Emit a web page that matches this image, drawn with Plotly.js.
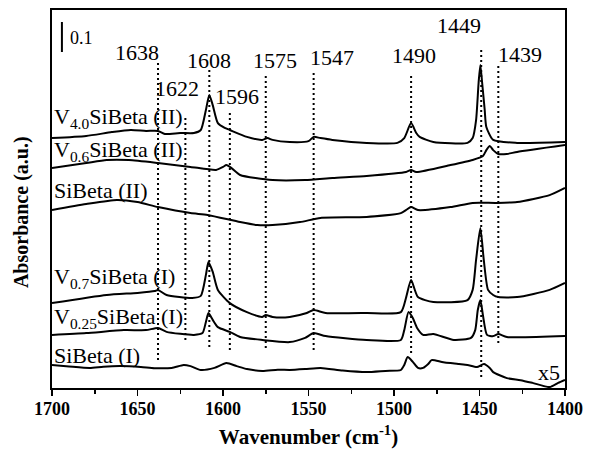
<!DOCTYPE html>
<html>
<head>
<meta charset="utf-8">
<script src="https://cdn.plot.ly/plotly-3.0.1.min.js"></script>
<style>
  html, body { margin: 0; padding: 0; background: #fff; }
  #chart { width: 589px; height: 451px; }
</style>
</head>
<body>
<div id="chart"></div>
<script>
// ---------------- DATA ----------------
// Wavenumber (cm-1) and stacked absorbance (a.u., offsets included)
const wnV40II = [1700,1680,1665,1654,1645,1638,1634,1625,1617,1613,1610,1608,1606,1603,1599,1596,1586,1577,1574,1571,1561,1550,1547,1543,1536,1516,1498,1494,1490,1487,1485,1477,1457,1454,1452,1450.5,1449.5,1448.5,1447,1446,1442,1428,1400];
const abV40II = [0.833,0.840,0.853,0.860,0.857,0.857,0.847,0.850,0.850,0.860,0.927,0.977,0.943,0.883,0.867,0.860,0.837,0.827,0.833,0.827,0.820,0.823,0.837,0.833,0.827,0.817,0.817,0.833,0.883,0.850,0.837,0.820,0.817,0.833,0.893,1.020,1.077,1.020,0.930,0.870,0.827,0.817,0.820];

const wnV06II = [1700,1680,1668,1655,1638,1619,1604,1600,1598,1595,1590,1571,1552,1536,1516,1493,1490,1487,1467,1454,1448,1446,1444,1442,1439,1434,1428,1400];
const abV06II = [0.733,0.750,0.760,0.760,0.750,0.737,0.727,0.737,0.743,0.733,0.710,0.693,0.693,0.700,0.707,0.720,0.727,0.720,0.743,0.760,0.773,0.793,0.807,0.793,0.780,0.780,0.787,0.810];

const wnSiII = [1700,1680,1662,1650,1638,1619,1609,1590,1580,1571,1555,1543,1516,1496,1493,1490,1486,1467,1454,1440,1428,1409,1400];
const abSiII = [0.593,0.613,0.627,0.620,0.603,0.583,0.577,0.553,0.543,0.543,0.553,0.567,0.570,0.583,0.593,0.603,0.593,0.603,0.617,0.617,0.620,0.643,0.667];

const wnV07I = [1700,1668,1650,1640,1638,1633,1618,1613,1610,1608.5,1606,1603,1596,1586,1577,1575,1571,1561,1551,1547,1540,1516,1496,1493,1490,1486,1477,1457,1454,1452,1449.5,1447.5,1445,1442,1439,1428,1409,1400];
const abV07I = [0.283,0.310,0.317,0.323,0.327,0.310,0.300,0.307,0.377,0.420,0.387,0.327,0.283,0.253,0.237,0.243,0.237,0.237,0.250,0.260,0.250,0.250,0.253,0.300,0.360,0.303,0.287,0.293,0.327,0.427,0.533,0.427,0.327,0.310,0.303,0.303,0.327,0.350];

const wnV025I = [1700,1680,1658,1645,1638,1633,1617,1612,1610,1608.5,1606,1603,1596,1590,1577,1561,1552,1547,1540,1516,1496,1494,1491.5,1489,1486.5,1483,1477,1465,1455,1452.5,1451,1449.5,1448,1445.6,1442,1439,1434,1400];
const abV025I = [0.177,0.183,0.193,0.193,0.200,0.187,0.177,0.183,0.220,0.250,0.227,0.203,0.187,0.170,0.160,0.153,0.167,0.183,0.173,0.160,0.160,0.193,0.253,0.233,0.200,0.177,0.180,0.160,0.167,0.193,0.260,0.293,0.243,0.177,0.173,0.180,0.170,0.173];

const wnSiI = [1700,1690,1678,1670,1660,1648,1640,1630,1623,1619,1613,1605,1598,1592,1586,1577,1568,1561,1552,1543,1530,1516,1505,1496,1494,1492,1489,1486,1483,1480,1478,1472,1467,1462,1457,1451.5,1447.4,1444,1442,1434,1426,1419,1409,1404,1400];
const abSiI = [0.077,0.072,0.067,0.071,0.073,0.070,0.066,0.067,0.077,0.073,0.060,0.067,0.083,0.073,0.063,0.057,0.061,0.060,0.063,0.067,0.058,0.053,0.057,0.060,0.077,0.103,0.087,0.067,0.067,0.080,0.093,0.087,0.083,0.080,0.077,0.070,0.080,0.067,0.053,0.033,0.026,0.017,0.003,0.017,0.027];

const seriesLabels = ["V<sub>4.0</sub>SiBeta (II)","V<sub>0.6</sub>SiBeta (II)","SiBeta (II)","V<sub>0.7</sub>SiBeta (I)","V<sub>0.25</sub>SiBeta (I)","SiBeta (I)"];
const peakWavenumbers = [1638,1622,1608,1596,1575,1547,1490,1449,1439];
const peakLabels = ["1638","1622","1608","1596","1575","1547","1490","1449","1439"];
const xTickVals = [1700,1650,1600,1550,1500,1450,1400];
const xTickText = ["1700","1650","1600","1550","1500","1450","1400"];
const scaleBarValue = 0.1;
const scaleLabel = "0.1";
const multiplierLabel = "x5";
const xTitle = "Wavenumber (cm<sup>-1</sup>)";
const yTitle = "Absorbance (a.u.)";

// ---------------- CHART ----------------
const FONT = "'Liberation Serif', 'Times New Roman', Times, serif";
const seriesX = [wnV40II, wnV06II, wnSiII, wnV07I, wnV025I, wnSiI];
const seriesY = [abV40II, abV06II, abSiII, abV07I, abV025I, abSiI];

const traces = seriesX.map((xs, i) => ({
  x: xs, y: seriesY[i], type: 'scatter', mode: 'lines', name: seriesLabels[i],
  line: { color: '#000', width: 2, shape: 'spline', smoothing: 0.6 },
  hoverinfo: 'skip'
}));

// layout placement (not data)
const labelY = [0.90, 0.79, 0.66, 0.367, 0.233, 0.11];
const peakLineSpan = {
  "1638": [0.093, 1.083], "1622": [0.16, 0.91], "1608": [0.137, 1.06],
  "1596": [0.127, 0.92], "1575": [0.133, 1.05], "1547": [0.127, 1.05],
  "1490": [0.117, 1.043], "1449": [0.037, 1.137], "1439": [0.15, 1.077]
};
const peakLabelPos = {
  "1638": [1650.3, 1.117], "1622": [1626.9, 1.0], "1608": [1608.2, 1.093],
  "1596": [1591.8, 0.973], "1575": [1569.6, 1.093], "1547": [1536.3, 1.103],
  "1490": [1488.3, 1.107], "1449": [1462, 1.207], "1439": [1426.3, 1.113]
};

const shapes = peakWavenumbers.map((w, i) => ({
  type: 'line', xref: 'x', yref: 'y', x0: w, x1: w,
  y0: peakLineSpan[peakLabels[i]][0], y1: peakLineSpan[peakLabels[i]][1],
  line: { color: '#000', width: 2, dash: '2px,3px' }, layer: 'below'
}));
// scale bar
shapes.push({
  type: 'line', xref: 'x', yref: 'y', x0: 1694.2, x1: 1694.2,
  y0: 1.12, y1: 1.12 + scaleBarValue, line: { color: '#000', width: 2 }
});

const annotations = [];
peakLabels.forEach(l => annotations.push({
  text: l, xref: 'x', yref: 'y', x: peakLabelPos[l][0], y: peakLabelPos[l][1],
  showarrow: false, xanchor: 'center', yanchor: 'middle',
  font: { family: FONT, size: 22, color: '#000' }
}));
seriesLabels.forEach((l, i) => annotations.push({
  text: l, xref: 'x', yref: 'y', x: 1700, y: labelY[i],
  showarrow: false, xanchor: 'left', yanchor: 'middle',
  font: { family: FONT, size: 22, color: '#000' }
}));
annotations.push({
  text: scaleLabel, xref: 'x', yref: 'y', x: 1690.5, y: 1.167,
  showarrow: false, xanchor: 'left', yanchor: 'middle',
  font: { family: FONT, size: 18, color: '#000' }
});
annotations.push({
  text: multiplierLabel, xref: 'x', yref: 'y', x: 1401.8, y: 0.053,
  showarrow: false, xanchor: 'right', yanchor: 'middle',
  font: { family: FONT, size: 22, color: '#000' }
});
// y-axis title (placed to match the reference's off-centre position)
annotations.push({
  text: '<b>' + yTitle + '</b>', xref: 'paper', yref: 'paper',
  x: -0.058, y: 0.466, textangle: -90, showarrow: false,
  xanchor: 'center', yanchor: 'middle',
  font: { family: FONT, size: 20, color: '#000' }
});

const layout = {
  width: 589, height: 451,
  margin: { l: 52, r: 24, t: 10, b: 63 },
  paper_bgcolor: '#fff', plot_bgcolor: '#fff',
  showlegend: false,
  font: { family: FONT, color: '#000' },
  xaxis: {
    range: [1700, 1400], autorange: false,
    tickvals: xTickVals, ticktext: xTickText,
    ticks: 'outside', ticklen: 6, tickwidth: 1.5, tickcolor: '#000',
    ticklabelstandoff: -3,
    minor: { dtick: 25, ticks: 'outside', ticklen: 4, tickwidth: 1.5, tickcolor: '#000', showgrid: false },
    showgrid: false, zeroline: false,
    showline: true, linecolor: '#000', linewidth: 2, mirror: true,
    tickfont: { family: FONT, size: 18, color: '#000', weight: 'bold' },
    title: { text: '<b>' + xTitle + '</b>', font: { family: FONT, size: 21, color: '#000' }, standoff: 12 }
  },
  yaxis: {
    range: [0, 1.26], autorange: false,
    showticklabels: false, ticks: '',
    showgrid: false, zeroline: false,
    showline: true, linecolor: '#000', linewidth: 2, mirror: true
  },
  shapes: shapes,
  annotations: annotations
};

Plotly.newPlot('chart', traces, layout, { displayModeBar: false, staticPlot: true });
</script>
</body>
</html>
